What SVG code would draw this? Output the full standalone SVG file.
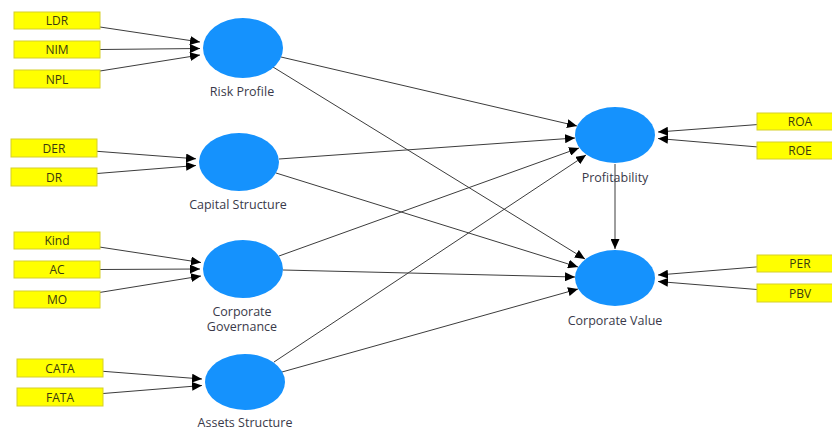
<svg xmlns="http://www.w3.org/2000/svg" width="832" height="430" viewBox="0 0 832 430">
<defs>
<style>
.lv{fill:#1592fd;}
.ind{fill:#ffff00;stroke:#d6cf2a;stroke-width:1;}
.it{font-family:"Open Sans","Noto Sans",sans-serif;font-size:12px;fill:#3a3a10;text-anchor:middle;}
.lt{font-family:"Open Sans","Noto Sans",sans-serif;font-size:12.5px;fill:#3a3a4a;text-anchor:middle;}
.c{stroke:#3c3c3c;stroke-width:1;fill:none;marker-end:url(#ah);}
</style>
<marker id="ah" markerUnits="userSpaceOnUse" markerWidth="10" markerHeight="9" refX="10" refY="4.5" orient="auto">
<path d="M0,0 L10,4.5 L0,9 z" fill="#000"/>
</marker>
</defs>
<rect width="832" height="430" fill="#ffffff"/>
<g id="connectors">
<line class="c" x1="100" y1="27" x2="200" y2="42"/>
<line class="c" x1="100" y1="49.5" x2="200" y2="48.5"/>
<line class="c" x1="100" y1="71" x2="200" y2="55"/>
<line class="c" x1="97" y1="151.3" x2="196" y2="158.8"/>
<line class="c" x1="97" y1="173.5" x2="196" y2="165.5"/>
<line class="c" x1="100" y1="247.1" x2="201" y2="262.5"/>
<line class="c" x1="100" y1="269.5" x2="200" y2="269"/>
<line class="c" x1="100" y1="292.4" x2="201" y2="276"/>
<line class="c" x1="103" y1="371.3" x2="202" y2="379"/>
<line class="c" x1="103" y1="393.5" x2="202" y2="385.5"/>
<line class="c" x1="757" y1="124.6" x2="658" y2="132"/>
<line class="c" x1="757" y1="146.9" x2="658" y2="138.5"/>
<line class="c" x1="757" y1="266.9" x2="658" y2="275"/>
<line class="c" x1="757" y1="289.5" x2="658" y2="281.5"/>
<line class="c" x1="281" y1="57" x2="577" y2="126"/>
<line class="c" x1="273" y1="67" x2="585" y2="259"/>
<line class="c" x1="279" y1="159" x2="575" y2="138"/>
<line class="c" x1="276" y1="173" x2="578" y2="267"/>
<line class="c" x1="279" y1="256" x2="579" y2="148"/>
<line class="c" x1="283" y1="270" x2="575" y2="277"/>
<line class="c" x1="274" y1="362" x2="586" y2="155"/>
<line class="c" x1="282" y1="372" x2="578" y2="289"/>
<line class="c" x1="615" y1="164" x2="615" y2="249"/>
</g>
<g id="LDR"><rect class="ind" x="14" y="12" width="86" height="17"/><text class="it" x="57" y="25">LDR</text></g>
<g id="NIM"><rect class="ind" x="14" y="41" width="86" height="17"/><text class="it" x="57" y="54">NIM</text></g>
<g id="NPL"><rect class="ind" x="14" y="70" width="86" height="18"/><text class="it" x="57" y="83.5">NPL</text></g>
<g id="DER"><rect class="ind" x="11" y="139" width="86" height="18"/><text class="it" x="54" y="152.5">DER</text></g>
<g id="DR"><rect class="ind" x="11" y="168" width="86" height="18"/><text class="it" x="54" y="181.5">DR</text></g>
<g id="Kind"><rect class="ind" x="14" y="232" width="86" height="17"/><text class="it" x="57" y="245">Kind</text></g>
<g id="AC"><rect class="ind" x="14" y="261" width="86" height="17"/><text class="it" x="57" y="274">AC</text></g>
<g id="MO"><rect class="ind" x="14" y="291" width="86" height="17"/><text class="it" x="57" y="304">MO</text></g>
<g id="CATA"><rect class="ind" x="17" y="359" width="86" height="18"/><text class="it" x="60" y="372.5">CATA</text></g>
<g id="FATA"><rect class="ind" x="17" y="388" width="86" height="18"/><text class="it" x="60" y="401.5">FATA</text></g>
<g id="ROA"><rect class="ind" x="757" y="113" width="86" height="17"/><text class="it" x="800" y="126">ROA</text></g>
<g id="ROE"><rect class="ind" x="757" y="142" width="86" height="17"/><text class="it" x="800" y="155">ROE</text></g>
<g id="PER"><rect class="ind" x="757" y="255" width="86" height="17"/><text class="it" x="800" y="268">PER</text></g>
<g id="PBV"><rect class="ind" x="757" y="284" width="86" height="18"/><text class="it" x="800" y="297.5">PBV</text></g>
<g id="RiskProfile"><ellipse class="lv" cx="243" cy="48" rx="40" ry="30"/><text class="lt" x="242" y="96">Risk Profile</text></g>
<g id="CapitalStructure"><ellipse class="lv" cx="239" cy="162" rx="40" ry="29"/><text class="lt" x="238" y="209">Capital Structure</text></g>
<g id="CorporateGovernance"><ellipse class="lv" cx="243" cy="269" rx="40" ry="29"/><text class="lt" x="242" y="316">Corporate</text><text class="lt" x="242" y="331">Governance</text></g>
<g id="AssetsStructure"><ellipse class="lv" cx="245" cy="382" rx="40" ry="28"/><text class="lt" x="245" y="427">Assets Structure</text></g>
<g id="Profitability"><ellipse class="lv" cx="615" cy="135" rx="40" ry="28"/><text class="lt" x="615" y="182">Profitability</text></g>
<g id="CorporateValue"><ellipse class="lv" cx="615" cy="278" rx="40" ry="28"/><text class="lt" x="615" y="325">Corporate Value</text></g>
</svg>
